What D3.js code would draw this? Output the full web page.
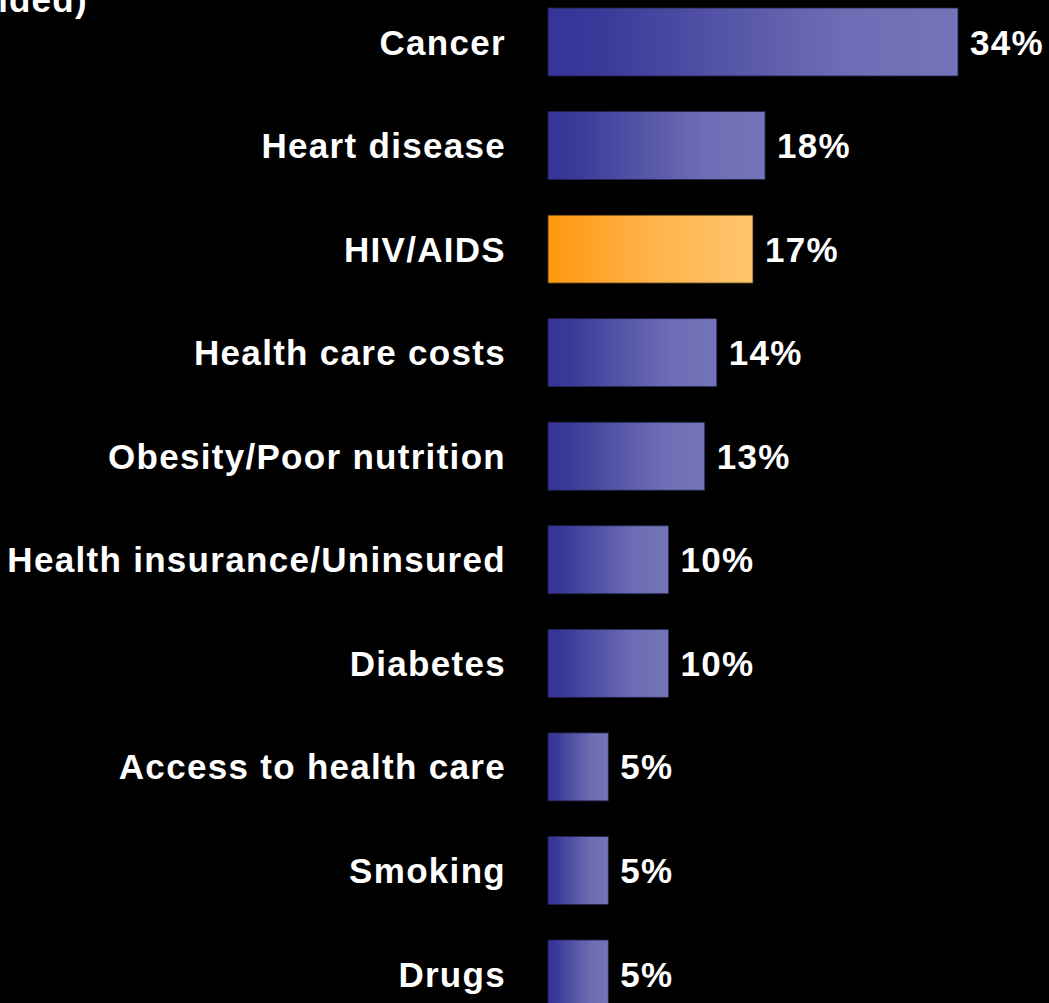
<!DOCTYPE html>
<html>
<head>
<meta charset="utf-8">
<script src="https://cdn.jsdelivr.net/npm/d3@7"></script>
<style>
  html, body { margin: 0; padding: 0; background: #000; overflow: hidden; }
  svg { display: block; }
</style>
</head>
<body>
<script>
const categories = ["Cancer", "Heart disease", "HIV/AIDS", "Health care costs", "Obesity/Poor nutrition",
  "Health insurance/Uninsured", "Diabetes", "Access to health care", "Smoking", "Drugs"];
const values = [34, 18, 17, 14, 13, 10, 10, 5, 5, 5];
const valueLabels = ["34%", "18%", "17%", "14%", "13%", "10%", "10%", "5%", "5%", "5%"];
const highlighted = ["HIV/AIDS"];
const titleText = "(Open-ended)";

const W = 1049, H = 1003;
const svg = d3.select("body").append("svg").attr("width", W).attr("height", H);
svg.append("rect").attr("width", W).attr("height", H).attr("fill", "#000");

const defs = svg.append("defs");
const blue = defs.append("linearGradient").attr("id", "gBlue").attr("x1", "0").attr("x2", "1").attr("y1", "0").attr("y2", "0");
[[0, "#36339a"], [0.12, "#3a3898"], [0.45, "#5656a8"], [0.72, "#6d6db5"], [1, "#7474ba"]]
  .forEach(([o, c]) => blue.append("stop").attr("offset", o).attr("stop-color", c));
const orange = defs.append("linearGradient").attr("id", "gOrange").attr("x1", "0").attr("x2", "1").attr("y1", "0").attr("y2", "0");
[[0, "#ff990c"], [0.12, "#ff9e1e"], [0.5, "#ffb34a"], [1, "#ffc46d"]]
  .forEach(([o, c]) => orange.append("stop").attr("offset", o).attr("stop-color", c));

const x = d3.scaleLinear().domain([0, 34]).range([548, 958]);
const y = d3.scaleBand().domain(categories).range([8, 1008]).paddingInner(0.3434).paddingOuter(0);

const font = "'Liberation Sans', Arial, Helvetica, sans-serif";

svg.append("text")
  .attr("x", 88).attr("y", 12)
  .attr("text-anchor", "end")
  .attr("fill", "#fff")
  .attr("font-family", font).attr("font-weight", "bold").attr("font-size", 35)
  .attr("letter-spacing", 1.3)
  .text(titleText);

const g = svg.append("g");
g.selectAll("rect.bar").data(categories).join("rect")
  .attr("class", "bar")
  .attr("x", x(0))
  .attr("y", d => y(d))
  .attr("width", (d, i) => x(values[i]) - x(0))
  .attr("height", y.bandwidth())
  .attr("fill", d => highlighted.includes(d) ? "url(#gOrange)" : "url(#gBlue)")
  .attr("stroke", d => highlighted.includes(d) ? "#3a2a10" : "#22224a")
  .attr("stroke-width", 0.8);

g.selectAll("text.cat").data(categories).join("text")
  .attr("class", "cat")
  .attr("x", 506)
  .attr("y", d => y(d) + y.bandwidth() / 2)
  .attr("dy", "0.36em")
  .attr("text-anchor", "end")
  .attr("fill", "#fff")
  .attr("font-family", font).attr("font-weight", "bold").attr("font-size", 35)
  .attr("letter-spacing", 1.3)
  .text(d => d);

g.selectAll("text.val").data(categories).join("text")
  .attr("class", "val")
  .attr("x", (d, i) => x(values[i]) + 12)
  .attr("y", d => y(d) + y.bandwidth() / 2)
  .attr("dy", "0.36em")
  .attr("fill", "#fff")
  .attr("font-family", font).attr("font-weight", "bold").attr("font-size", 35)
  .attr("letter-spacing", 1.3)
  .text((d, i) => valueLabels[i]);
</script>
</body>
</html>
